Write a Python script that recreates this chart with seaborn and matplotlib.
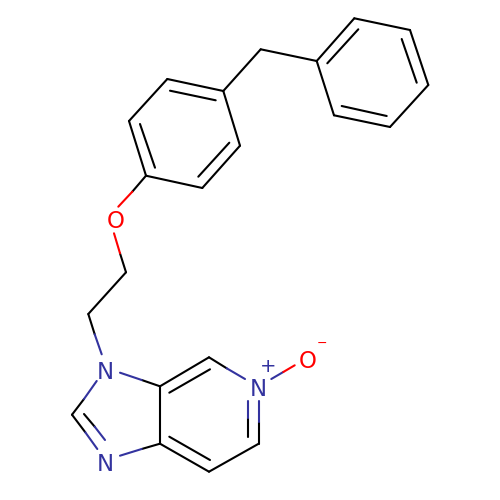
import matplotlib
matplotlib.use("Agg")
import matplotlib.pyplot as plt
import pandas as pd
import seaborn as sns

# Bond segments of the structure, in picture units: (x1, y1, x2, y2)
black_bonds = [
    (146, 175.7, 202.3, 188), (202.3, 188, 240, 145.7), (240, 145.7, 223.3, 91),
    (223.3, 91, 167.3, 79), (167.3, 79, 129, 121), (129, 121, 146, 175.7),
    (155, 167.7, 140, 124), (198.3, 176.7, 229.3, 142.7), (170, 90.7, 215.7, 100.3),
    (223.3, 91, 260.7, 49.3), (260.7, 49.3, 316.7, 61),
    (316.7, 61, 354.3, 18.3), (354.3, 18.3, 410, 30), (410, 30, 428.3, 85),
    (428.3, 85, 390, 127), (390, 127, 334, 115.3), (334, 115.3, 316.7, 61),
    (327.3, 63.3, 358.3, 29.3), (401.7, 39, 416.7, 82.7), (386.7, 116, 341.7, 106),
    (146, 175.7, 132.3, 191.7), (120, 253.3, 126, 272.3),
    (126, 272.3, 88.3, 314), (88.3, 314, 94.7, 334.3),
    (84, 399, 72, 414.7), (72, 414.7, 85.3, 432.3), (84, 414, 94.7, 426.7),
    (141.7, 449, 160, 443.7), (141.7, 380, 160, 386.3),
    (160, 386.3, 160, 443.7), (160, 386.3, 209, 357.3), (169.3, 392.7, 210, 369.3),
    (209, 357.3, 226.7, 368.3), (258.7, 421.7, 258.7, 443.7), (248, 418.3, 248, 437.3),
    (258.7, 443.7, 209, 471.7), (209, 471.7, 160, 443.7), (169.3, 436.7, 210, 460),
]
blue_bonds = [
    (94.7, 334.3, 101.7, 354.3), (96.7, 381, 84, 399), (85.3, 432.3, 97.3, 449),
    (94.7, 426.7, 105, 440), (120, 455.7, 141.7, 449), (120, 372.7, 141.7, 380),
    (226.7, 368.3, 245, 379), (258.7, 400.7, 258.7, 421.7), (248, 400.7, 248, 418.3),
    (271.3, 379, 283.3, 372),
]
red_bonds = [
    (132.3, 191.7, 118.3, 206.7), (114, 233.3, 120, 253.3), (283.3, 372, 294.7, 365.3),
]

# Atom labels: (text, x, y, colour key)
atom_labels = [
    ("O", 115.5, 219, "red"), ("N", 105.7, 370, "blue"), ("N", 105.7, 461.7, "blue"),
    ("N", 258.7, 386.7, "blue"), ("O", 308, 358.7, "red"),
]
# Charge signs: (text, x, y, colour key, font size)
charge_labels = [("+", 267.7, 367, "blue", 14), ("\u2212", 321.7, 343.3, "red", 9)]

palette = {"black": "#000000", "blue": "#33339F", "red": "#FF0000"}

rows = []
for name, bonds in (("black", black_bonds), ("blue", blue_bonds), ("red", red_bonds)):
    for i, (x1, y1, x2, y2) in enumerate(bonds):
        rows.append({"x": x1, "y": y1, "bond": f"{name}{i}", "colour": name})
        rows.append({"x": x2, "y": y2, "bond": f"{name}{i}", "colour": name})
df = pd.DataFrame(rows)

sns.set_style("white")
plt.rcParams["font.family"] = ["DejaVu Sans"]
fig = plt.figure(figsize=(5, 5), dpi=100)
ax = fig.add_axes([0, 0, 1, 1])
sns.lineplot(data=df, x="x", y="y", hue="colour", units="bond", estimator=None,
             sort=False, palette=palette, legend=False, ax=ax,
             linewidth=1.5, solid_capstyle="round")
for text, x, y, key in atom_labels:
    ax.text(x, y, text, color=palette[key], fontsize=16.5, ha="center", va="center_baseline")
for text, x, y, key, size in charge_labels:
    ax.text(x, y, text, color=palette[key], fontsize=size, ha="center", va="center")
ax.set_xlim(0, 500)
ax.set_ylim(500, 0)
ax.axis("off")
fig.savefig("out.png", dpi=100, facecolor="white")
